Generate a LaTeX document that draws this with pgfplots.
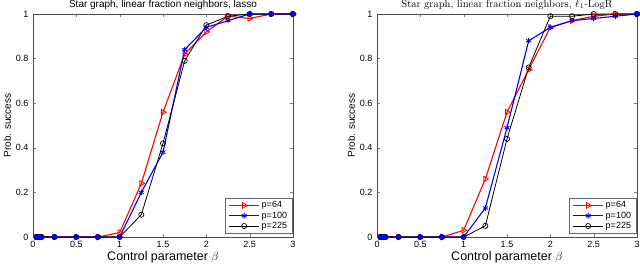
\documentclass[border=0pt]{standalone}
\usepackage{pgfplots}
\pgfplotsset{compat=1.18}
\usepackage{fontspec}
\setsansfont{Liberation Sans}
\begin{document}
\begin{tikzpicture}
\pgfplotsset{
  every axis/.append style={
    scale only axis, width=260pt, height=223pt,
    xmin=0, xmax=3, ymin=0, ymax=1,
    xtick={0,0.5,...,3}, ytick={0,0.2,...,1},
    tick pos=both, tick align=inside,
    major tick length=3pt,
    axis line style={black!70},
    /pgf/number format/assume math mode=true,
    tick label style={font=\sffamily\fontsize{9}{10}\selectfont},
    xticklabel style={yshift=-1pt},
    yticklabel style={xshift=-1pt},
    xlabel={\sffamily\fontsize{12.5}{13}\selectfont Control parameter $\beta$},
    ylabel={\sffamily\fontsize{10}{11}\selectfont Prob. success},
    xlabel style={yshift=3pt},
    ylabel style={yshift=-2pt},
    legend style={at={(0.997,0.015)}, anchor=south east, font=\sffamily\fontsize{9}{10}\selectfont,
      draw=black!60, inner xsep=3pt, inner ysep=1.5pt, row sep=-1.5pt, cells={anchor=west}},
    legend cell align=left,
    legend image code/.code={\draw[mark repeat=2,mark phase=2] plot coordinates {(0pt,0pt)(15pt,0pt)(30pt,0pt)};},
  },
  s64/.style={red, line width=1.1pt, mark=triangle, mark options={rotate=-90, solid, fill=white, line width=0.8pt}, mark size=3.2pt},
  s100/.style={blue, line width=1.1pt, mark=asterisk, mark options={solid, line width=0.9pt}, mark size=2.8pt},
  s225/.style={black, line width=0.8pt, mark=o, mark options={solid, line width=0.7pt}, mark size=2.6pt},
}
\useasboundingbox (0pt,0pt) rectangle (640pt,273pt);
\begin{axis}[at={(33pt,36pt)}, anchor=south west,
  title={\sffamily\fontsize{10}{11}\selectfont Star graph, linear fraction neighbors, lasso},
  title style={yshift=-5pt}]
\addplot[s64] coordinates {(0.04,0)(0.07,0)(0.1,0)(0.25,0)(0.5,0)(0.75,0)(1,0.02)(1.25,0.24)(1.5,0.56)(1.75,0.82)(2,0.92)(2.25,0.99)(2.5,0.98)(2.75,1)(3,1)};
\addplot[s100] coordinates {(0.04,0)(0.07,0)(0.1,0)(0.25,0)(0.5,0)(0.75,0)(1,0)(1.25,0.20)(1.5,0.38)(1.75,0.84)(2,0.94)(2.25,0.97)(2.5,1)(2.75,1)(3,1)};
\addplot[s225] coordinates {(0.04,0)(0.07,0)(0.1,0)(0.25,0)(0.5,0)(0.75,0)(1,0)(1.25,0.10)(1.5,0.42)(1.75,0.79)(2,0.95)(2.25,0.99)(2.5,1)(2.75,1)(3,1)};
\addplot[only marks, blue, mark=*, mark size=2.2pt] coordinates {(0.04,0)(0.07,0)(0.1,0)(0.25,0)(0.5,0)(0.75,0)(1,0)(2.5,1)(2.75,1)(3,1)};
\legend{p=64\hspace{7pt},p=100,p=225}
\end{axis}
\begin{axis}[at={(377pt,36pt)}, anchor=south west,
  title={\fontsize{10.5}{11}\selectfont Star graph, linear fraction neighbors, $\ell_1$-LogR},
  title style={yshift=-5pt}]
\addplot[s64] coordinates {(0.04,0)(0.07,0)(0.1,0)(0.25,0)(0.5,0)(0.75,0)(1,0.03)(1.25,0.26)(1.5,0.56)(1.75,0.75)(2,0.94)(2.25,0.97)(2.5,0.99)(2.75,1)(3,1)};
\addplot[s100] coordinates {(0.04,0)(0.07,0)(0.1,0)(0.25,0)(0.5,0)(0.75,0)(1,0)(1.25,0.13)(1.5,0.49)(1.75,0.88)(2,0.94)(2.25,0.97)(2.5,0.98)(2.75,0.99)(3,1)};
\addplot[s225] coordinates {(0.04,0)(0.07,0)(0.1,0)(0.25,0)(0.5,0)(0.75,0)(1,0)(1.25,0.05)(1.5,0.44)(1.75,0.76)(2,0.99)(2.25,0.99)(2.5,1)(2.75,1)(3,1)};
\addplot[only marks, blue, mark=*, mark size=2.2pt] coordinates {(0.04,0)(0.07,0)(0.1,0)(0.25,0)(0.5,0)(0.75,0)(1,0)(3,1)};
\legend{p=64\hspace{7pt},p=100,p=225}
\end{axis}
\end{tikzpicture}
\end{document}
